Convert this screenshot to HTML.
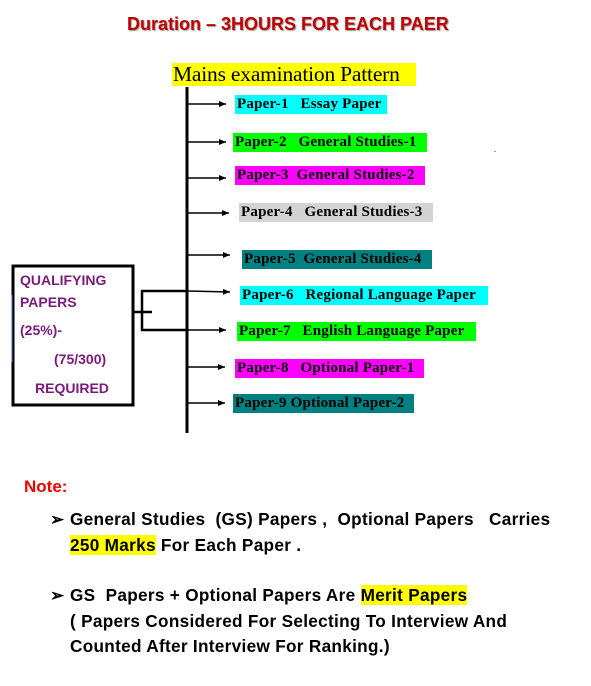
<!DOCTYPE html>
<html><head><meta charset="utf-8"><style>
*{margin:0;padding:0;box-sizing:border-box}
body{width:591px;height:686px;background:#fff;position:relative;overflow:hidden;font-family:"Liberation Sans",sans-serif}
.a{position:absolute;white-space:nowrap}
.p{position:absolute;white-space:nowrap;font-family:"Liberation Serif",serif;font-weight:bold;font-size:15px;line-height:19px;height:19px;padding-left:2px;color:#000;letter-spacing:0.2px}
.n{position:absolute;white-space:nowrap;font-weight:bold;font-size:17.2px;left:70px;color:#000;letter-spacing:0.3px;line-height:20px}
.box{font-weight:bold;font-size:14px;color:#7a1a7a}
</style></head><body>
<div class="a" style="left:127px;top:14px;font-size:18px;font-weight:bold;color:#c00000;text-shadow:1px 1px 1px #999;letter-spacing:0px">Duration – 3HOURS FOR EACH PAER</div>
<div class="a" style="left:172px;top:63px;width:244px;height:23px;background:#ffff00;font-family:'Liberation Serif',serif;font-size:21.5px;line-height:23px;padding-left:1px;letter-spacing:-0.2px">Mains examination Pattern</div>

<svg class="a" style="left:0;top:0" width="591" height="686">
<defs><marker id="ar" markerWidth="8" markerHeight="8" refX="7" refY="4" orient="auto" markerUnits="userSpaceOnUse"><path d="M0,1 L7,4 L0,7 z" fill="#000"/></marker></defs>
<line x1="187" y1="87" x2="187" y2="433" stroke="#000" stroke-width="3"/>
<g stroke="#000" stroke-width="1.5" marker-end="url(#ar)">
<line x1="188" y1="104" x2="226" y2="104"/>
<line x1="188" y1="142" x2="226" y2="142"/>
<line x1="188" y1="178" x2="226" y2="178"/>
<line x1="188" y1="213" x2="229" y2="213"/>
<line x1="188" y1="255" x2="230" y2="255"/>
<line x1="188" y1="291" x2="230" y2="292"/>
<line x1="188" y1="330" x2="226" y2="330"/>
<line x1="188" y1="367" x2="225" y2="367"/>
<line x1="188" y1="403" x2="225" y2="403"/>
</g>
<rect x="13" y="266" width="120" height="139" fill="none" stroke="#000" stroke-width="3"/>
<line x1="12" y1="295" x2="12" y2="362" stroke="#4472c4" stroke-width="1"/>
<g stroke="#000" stroke-width="2.5" fill="none">
<line x1="133" y1="312" x2="152" y2="312"/>
<polyline points="187,291 142,291 142,330 187,330"/>
</g>
</svg>

<div class="a box" style="left:20px;top:272px">QUALIFYING</div>
<div class="a box" style="left:20px;top:294px">PAPERS</div>
<div class="a box" style="left:20px;top:322px">(25%)-</div>
<div class="a box" style="left:54px;top:351px">(75/300)</div>
<div class="a box" style="left:35px;top:380px">REQUIRED</div>

<div class="p" style="left:235px;top:95px;width:152px;background:#00ffff">Paper-1 &nbsp; Essay Paper</div>
<div class="p" style="left:233px;top:133px;width:194px;background:#00ff00">Paper-2 &nbsp; General Studies-1</div>
<div class="p" style="left:235px;top:166px;width:190px;background:#ff00ff">Paper-3 &nbsp;General Studies-2</div>
<div class="p" style="left:239px;top:203px;width:194px;background:#d3d3d3">Paper-4 &nbsp; General Studies-3</div>
<div class="p" style="left:242px;top:250px;width:190px;background:#008080">Paper-5 &nbsp;General Studies-4</div>
<div class="p" style="left:240px;top:286px;width:248px;background:#00ffff">Paper-6 &nbsp; Regional Language Paper</div>
<div class="p" style="left:237px;top:322px;width:239px;background:#00ff00">Paper-7 &nbsp; English Language Paper</div>
<div class="p" style="left:235px;top:359px;width:189px;background:#ff00ff">Paper-8 &nbsp; Optional Paper-1</div>
<div class="p" style="left:233px;top:394px;width:181px;background:#008080">Paper-9 Optional Paper-2</div>
<div class="a" style="left:494px;top:151px;width:2px;height:1px;background:#999"></div>

<div class="a" style="left:24px;top:477px;font-weight:bold;font-size:17px;color:#ee0000">Note:</div>
<div class="a" style="left:50px;top:510px;font-size:17px;font-weight:bold">➢</div>
<div class="n" style="top:509px">General Studies &nbsp;(GS) Papers , &nbsp;Optional Papers &nbsp; Carries</div>
<div class="n" style="top:535px"><span style="background:#ffff00">250 Marks</span> For Each Paper .</div>
<div class="a" style="left:50px;top:586px;font-size:17px;font-weight:bold">➢</div>
<div class="n" style="top:585px">GS &nbsp;Papers + Optional Papers Are <span style="background:#ffff00">Merit Papers</span></div>
<div class="n" style="top:611px">( Papers Considered For Selecting To Interview And</div>
<div class="n" style="top:636px">Counted After Interview For Ranking.)</div>
</body></html>
